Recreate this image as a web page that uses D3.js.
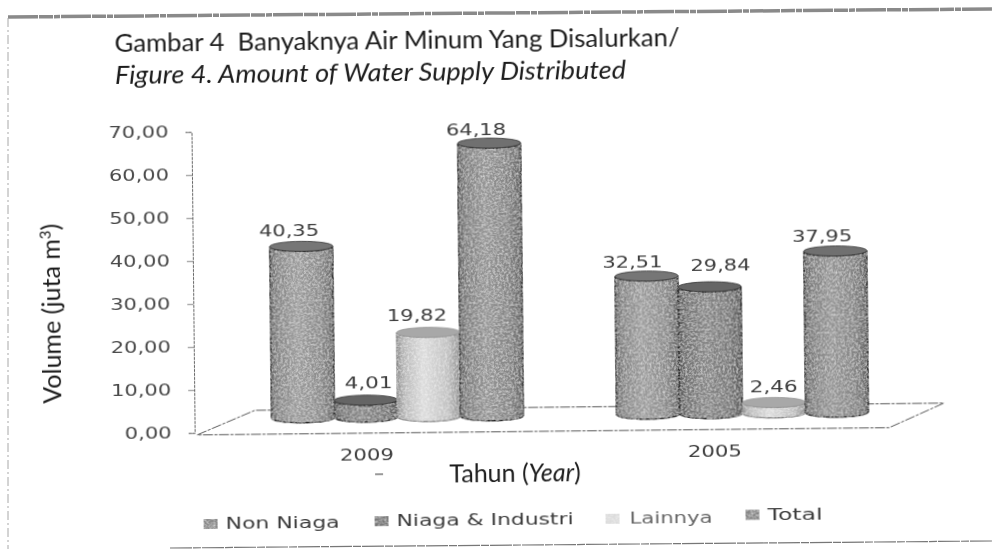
<!DOCTYPE html>
<html><head><meta charset="utf-8">
<script src="https://cdn.jsdelivr.net/npm/d3@7/dist/d3.min.js"></script>
<style>html,body{margin:0;padding:0;background:#fff;overflow:hidden}svg{display:block}text{white-space:pre}</style>
</head><body><svg id="c" width="992" height="549"></svg>
<script>
const years = ["2009","2005"];
const series = ["Non Niaga","Niaga & Industri","Lainnya","Total"];
const values2009 = [40.35,4.01,19.82,64.18];
const values2005 = [32.51,29.84,2.46,37.95];
const yTicks = [0,10,20,30,40,50,60,70];
const seriesBase = ["#8b8b8b","#777777","#c2c2c2","#848484"];

const svg = d3.select("#c");
const defs = svg.append("defs");
const comma = v => d3.format(".2f")(v).replace(".",",");

// scan look
const soft = defs.append("filter").attr("id","soft").attr("x","-5%").attr("y","-5%").attr("width","110%").attr("height","110%");
soft.append("feGaussianBlur").attr("stdDeviation",0.55);
const grain = defs.append("filter").attr("id","grain").attr("x","-5%").attr("y","-5%").attr("width","110%").attr("height","110%");
grain.append("feTurbulence").attr("type","fractalNoise").attr("baseFrequency",0.45).attr("numOctaves",3).attr("seed",4).attr("result","n");
grain.append("feColorMatrix").attr("in","n").attr("type","matrix").attr("values","0 0 0 0 1  0 0 0 0 1  0 0 0 0 1  1.0 0 0 0 -0.38").attr("result","w");
grain.append("feComposite").attr("in","w").attr("in2","SourceGraphic").attr("operator","in").attr("result","speck");
grain.append("feMerge").call(m=>{m.append("feMergeNode").attr("in","SourceGraphic");m.append("feMergeNode").attr("in","speck");});

series.forEach((s,i)=>{
  const c = d3.color(seriesBase[i]);
  const g = defs.append("linearGradient").attr("id","cyl"+i);
  [[0,c.darker(0.8)],[0.12,c.darker(0.1)],[0.42,c.brighter(0.35)],[0.8,c],[1,c.darker(0.8)]].forEach(([o,k])=>
    g.append("stop").attr("offset",o).attr("stop-color",k));
});

// page frame of the scan
const frame = svg.append("g").attr("filter","url(#soft)");
frame.append("line").attr("x1",8).attr("y1",17).attr("x2",992).attr("y2",9).attr("stroke","#8a8a8a").attr("stroke-width",3.5).attr("stroke-dasharray","30 1 14 1 6 1");
frame.append("line").attr("x1",8).attr("y1",18).attr("x2",8).attr("y2",549).attr("stroke","#a8a8a8").attr("stroke-width",1).attr("stroke-dasharray","9 3 2 3");
frame.append("line").attr("x1",170).attr("y1",548).attr("x2",992).attr("y2",541).attr("stroke","#777").attr("stroke-width",1.2).attr("stroke-dasharray","22 1 8 1");

const root = svg.append("g").attr("transform","rotate(-0.6 496 274)").attr("filter","url(#soft)");

// title
root.append("text").attr("x",117).attr("y",47.5).attr("font-family","Lato").attr("font-size",25).attr("fill","#1c1c1c")
  .attr("textLength",565).attr("lengthAdjust","spacingAndGlyphs").text("Gambar 4  Banyaknya Air Minum Yang Disalurkan/");
root.append("text").attr("x",117).attr("y",80).attr("font-family","Lato").attr("font-style","italic").attr("font-size",25).attr("fill","#1c1c1c")
  .attr("textLength",511).attr("lengthAdjust","spacingAndGlyphs").text("Figure 4. Amount of Water Supply Distributed");

// scales
const yAxisScale = d3.scaleLinear().domain([0,70]).range([429.8,128.8]);
const barY = d3.scaleLinear().domain([0,70]).range([415.8,118.3]);
const xYear = d3.scaleBand().domain(years).range([223.5,913.5]);
const xSeries = d3.scaleBand().domain(series).range([46.5,298.5]);
const barW = xSeries.bandwidth(), ry = 5;

// floor
const floorY = yAxisScale(0);
const floorX0 = xYear.range()[0], floorX1 = xYear.range()[1];
root.append("path").attr("fill","none").attr("stroke","#5a5a5a").attr("stroke-width",1).attr("stroke-dasharray","10 1.5 3 1.5")
  .attr("d",`M${floorX0-28},${floorY+2} L${floorX0+30},${barY(0)-8} L${floorX1+29},${barY(0)-8} L${floorX1-26},${floorY+2} Z`);

// axis
const yAxis = d3.axisLeft(yAxisScale).tickValues(yTicks).tickFormat(comma).tickSize(6).tickPadding(17);
const ga = root.append("g").attr("transform","translate(193,0)").call(yAxis);
ga.select(".domain").attr("stroke","#666").attr("stroke-dasharray","3 1");
ga.selectAll(".tick line").attr("stroke","#888");
ga.selectAll("text").attr("font-family","DejaVu Sans").attr("font-size",15).attr("fill","#4a4a4a")
  .attr("textLength",d=>d===0?47:60).attr("lengthAdjust","spacingAndGlyphs");

// bars
const barData = years.flatMap((yr,j)=>(j===0?values2009:values2005).map((v,i)=>({yr,v,i,s:series[i]})));
const labelDx = [-12,3,-11,-13,-14,11,0,-13];
const labelDy = [-10,-12,-12,-8,-9,-16,-10,-10];
const gb = root.append("g");
const bars = gb.selectAll("g.bar").data(barData).join("g").attr("class","bar");
const sidePath = d => {
  const x = xYear(d.yr)+xSeries(d.s), t = barY(d.v), b = barY(0), r = barW/2;
  return `M${x},${t} L${x},${b} A${r},${ry} 0 0 0 ${x+barW},${b} L${x+barW},${t} A${r},${ry} 0 0 1 ${x},${t} Z`;
};
bars.append("path").attr("d",sidePath).attr("fill",d=>`url(#cyl${d.i})`)
  .attr("stroke",d=>d.i===2?"#8a8a8a":"#262626").attr("stroke-width",1.4).attr("filter","url(#grain)");
bars.append("ellipse").attr("cx",d=>xYear(d.yr)+xSeries(d.s)+barW/2).attr("cy",d=>barY(d.v)).attr("rx",barW/2).attr("ry",ry)
  .attr("fill",d=>d3.color(seriesBase[d.i]).darker(d.i===2?0.4:0.45)).attr("stroke",d=>d.i===2?"#999":"#333").attr("stroke-width",0.8);
bars.append("text").attr("x",(d,k)=>xYear(d.yr)+xSeries(d.s)+barW/2+labelDx[k]).attr("y",(d,k)=>barY(d.v)+labelDy[k])
  .attr("text-anchor","middle").attr("font-family","DejaVu Sans").attr("font-size",15).attr("fill","#3c3c3c")
  .attr("textLength",d=>d.v<10?48:60).attr("lengthAdjust","spacingAndGlyphs").text(d=>comma(d.v));

// category labels
const catDx = [-31,-28];
root.selectAll("text.cat").data(years).join("text").attr("class","cat")
  .attr("x",(d,j)=>xYear(d)+xYear.bandwidth()/2+catDx[j]).attr("y",459).attr("text-anchor","middle")
  .attr("font-family","DejaVu Sans").attr("font-size",15).attr("fill","#3c3c3c")
  .attr("textLength",54).attr("lengthAdjust","spacingAndGlyphs").text(d=>d);

// axis titles
const xt = root.append("text").attr("x",513).attr("y",482).attr("text-anchor","middle").attr("font-family","Lato").attr("font-size",25).attr("fill","#1c1c1c");
xt.append("tspan").text("Tahun (");
xt.append("tspan").attr("font-style","italic").text("Year");
xt.append("tspan").text(")");
root.append("line").attr("x1",373).attr("x2",381).attr("y1",473).attr("y2",473).attr("stroke","#555").attr("stroke-width",1.2);

const yt = root.append("text").attr("transform","translate(60,309) rotate(-90)").attr("text-anchor","middle").attr("font-family","Lato").attr("font-size",25).attr("fill","#1c1c1c");
yt.append("tspan").text("Volume (juta m");
yt.append("tspan").attr("font-size",15).attr("dy",-9).text("3");
yt.append("tspan").attr("dy",9).text(")");

// legend
const legendSwatchX = [201,372,603,743];
const legendTextX = [223,394,627,765];
const legendTextW = [114,177,83,55];
const legendY = [526,525,525,522.5];
const leg = root.selectAll("g.leg").data(series).join("g").attr("class","leg");
leg.append("rect").attr("x",(d,i)=>legendSwatchX[i]).attr("y",(d,i)=>legendY[i]-10).attr("width",14).attr("height",10)
  .attr("fill",(d,i)=>i===2?"#dcdcdc":seriesBase[i]).attr("filter","url(#grain)");
leg.append("text").attr("x",(d,i)=>legendTextX[i]).attr("y",(d,i)=>legendY[i]).attr("font-family","DejaVu Sans").attr("font-size",15).attr("fill",(d,i)=>i===2?"#666":"#3c3c3c")
  .attr("textLength",(d,i)=>legendTextW[i]).attr("lengthAdjust","spacingAndGlyphs").text(d=>d);
</script></body></html>
